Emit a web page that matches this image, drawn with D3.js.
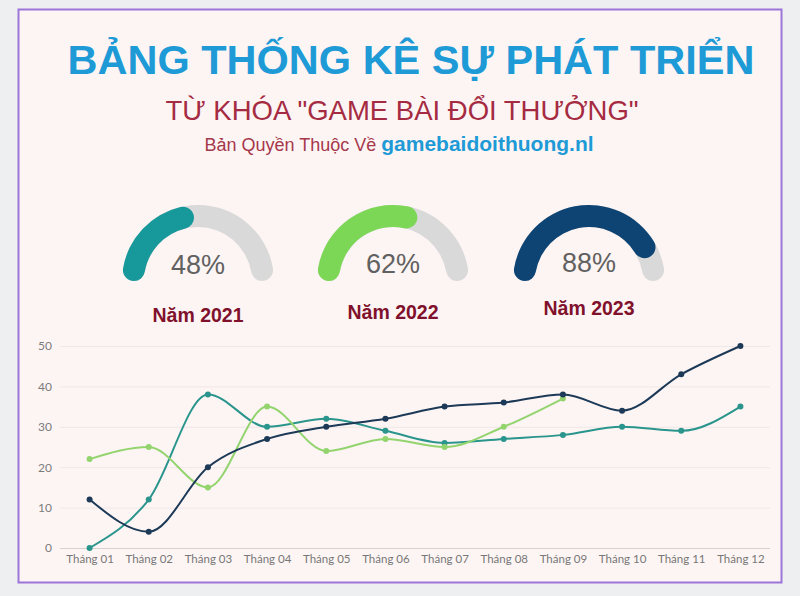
<!DOCTYPE html>
<html>
<head>
<meta charset="utf-8">
<script src="https://cdn.jsdelivr.net/npm/d3@7"></script>
<style>
  html, body { margin: 0; padding: 0; background: #eeeff1; }
  svg { display: block; }
</style>
</head>
<body>
<svg id="chart" width="800" height="596"></svg>
<script>
// ---- Data ----
const months = ["Tháng 01","Tháng 02","Tháng 03","Tháng 04","Tháng 05","Tháng 06","Tháng 07","Tháng 08","Tháng 09","Tháng 10","Tháng 11","Tháng 12"];
const seriesTeal  = [0, 12, 38, 30, 32, 29, 26, 27, 28, 30, 29, 35];
const seriesGreen = [22, 25, 15, 35, 24, 27, 25, 30, 37, null, null, null];
const seriesNavy  = [12, 4, 20, 27, 30, 32, 35, 36, 38, 34, 43, 50];
const yTicks = [0, 10, 20, 30, 40, 50];
const gaugeYears = ["Năm 2021", "Năm 2022", "Năm 2023"];
const gaugeValues = [48, 62, 88];

const titleText = "BẢNG THỐNG KÊ SỰ PHÁT TRIỂN";
const subtitleText = "TỪ KHÓA \"GAME BÀI ĐỔI THƯỞNG\"";
const creditText = "Bản Quyền Thuộc Về ";
const siteText = "gamebaidoithuong.nl";

// ---- Styles ----
const colTeal = "#2a958c", colGreen = "#93d46f", colNavy = "#1c3a57";
const gaugeColors = ["#17999b", "#7dd756", "#0e4474"];
const svg = d3.select("#chart");

// panel
svg.append("rect").attr("x", 0).attr("y", 0).attr("width", 800).attr("height", 596).attr("fill", "#eeeff1");
svg.append("rect").attr("x", 18.5).attr("y", 9.5).attr("width", 763).attr("height", 573)
  .attr("fill", "#fdf5f4").attr("stroke", "#9d74da").attr("stroke-width", 2);

// titles
svg.append("text").attr("x", 411).attr("y", 74).attr("text-anchor", "middle")
  .attr("font-family", "Liberation Sans, Arial, sans-serif").attr("font-weight", "bold")
  .attr("font-size", 41.5).attr("fill", "#1e9ad6").text(titleText);
svg.append("text").attr("x", 402).attr("y", 120).attr("text-anchor", "middle")
  .attr("font-family", "Liberation Sans, Arial, sans-serif")
  .attr("font-size", 27.5).attr("fill", "#a52b42").text(subtitleText);
const credit = svg.append("text").attr("x", 399).attr("y", 151).attr("text-anchor", "middle")
  .attr("font-family", "Liberation Sans, Arial, sans-serif");
credit.append("tspan").attr("font-size", 18).attr("fill", "#a6384b").text(creditText);
credit.append("tspan").attr("font-size", 21).attr("font-weight", "bold").attr("fill", "#1e9ad6").text(siteText);

// gauges
const gaugeCx = [198, 393, 589];
const gaugeCy = 281;
const arcGen = d3.arc().innerRadius(54).outerRadius(76).cornerRadius(11);
const pScale = d3.scaleLinear().domain([0, 100]).range([-Math.PI / 2, Math.PI / 2]);
gaugeValues.forEach((v, i) => {
  const g = svg.append("g").attr("transform", `translate(${gaugeCx[i]},${gaugeCy})`);
  g.append("path").attr("d", arcGen({startAngle: -Math.PI / 2, endAngle: Math.PI / 2})).attr("fill", "#d9d9d9");
  g.append("path").attr("d", arcGen({startAngle: -Math.PI / 2, endAngle: pScale(v)})).attr("fill", gaugeColors[i]);
  g.append("text").attr("x", 0).attr("y", -7 - i * 1.2).attr("text-anchor", "middle")
    .attr("font-family", "Liberation Sans, Arial, sans-serif").attr("font-size", 27)
    .attr("fill", "#616161").text(v + "%");
  g.append("text").attr("x", 0).attr("y", 41 - i * 3.5).attr("text-anchor", "middle")
    .attr("font-family", "Liberation Sans, Arial, sans-serif").attr("font-weight", "bold")
    .attr("font-size", 19.5).attr("fill", "#80112d").text(gaugeYears[i]);
});

// line chart
const x = d3.scalePoint().domain(months).range([60, 770]).padding(0.5);
const y = d3.scaleLinear().domain([0, 50]).range([548, 346]);

const grid = svg.append("g");
grid.selectAll("line").data(yTicks).join("line")
  .attr("x1", 60).attr("x2", 770)
  .attr("y1", d => y(d) + 0.5).attr("y2", d => y(d) + 0.5)
  .attr("stroke", d => d === 0 ? "#d8d0d0" : "#f0e7e7").attr("stroke-width", 1);

const yAxis = d3.axisLeft(y).tickValues(yTicks).tickSize(0).tickPadding(8);
svg.append("g").attr("transform", "translate(60,0)").call(yAxis)
  .call(g => g.select(".domain").remove())
  .call(g => g.selectAll("text").attr("font-family", "Lato, sans-serif").attr("font-size", 12).attr("fill", "#7c7c7c"));

const xAxis = d3.axisBottom(x).tickSize(0).tickPadding(7);
svg.append("g").attr("transform", "translate(0,548)").call(xAxis)
  .call(g => g.select(".domain").remove())
  .call(g => g.selectAll("text").attr("font-family", "Lato, sans-serif").attr("font-size", 11.5).attr("fill", "#777"));

const line = d3.line().defined(d => d.v !== null).x(d => x(d.m)).y(d => y(d.v)).curve(d3.curveMonotoneX);
const allSeries = [
  {vals: seriesTeal, color: colTeal},
  {vals: seriesGreen, color: colGreen},
  {vals: seriesNavy, color: colNavy}
];
allSeries.forEach(s => {
  const pts = months.map((m, i) => ({m, v: s.vals[i]}));
  svg.append("path").datum(pts).attr("d", line).attr("fill", "none")
    .attr("stroke", s.color).attr("stroke-width", 2);
  svg.append("g").selectAll("circle").data(pts.filter(d => d.v !== null)).join("circle")
    .attr("cx", d => x(d.m)).attr("cy", d => y(d.v)).attr("r", 3).attr("fill", s.color);
});
</script>
</body>
</html>
